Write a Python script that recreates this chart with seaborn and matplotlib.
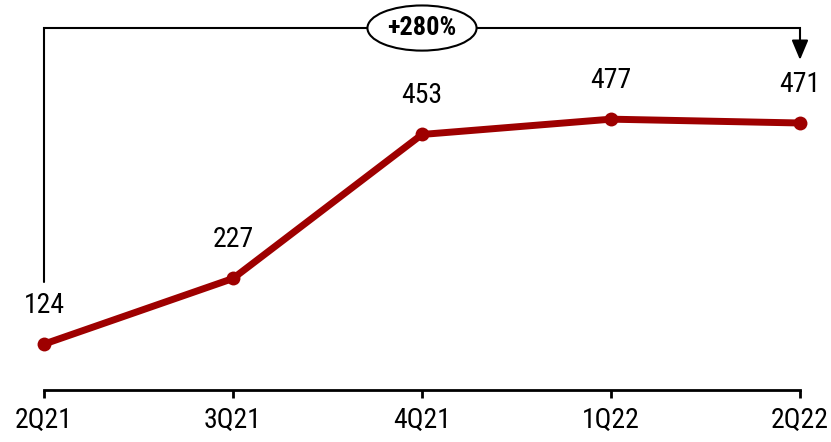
import matplotlib
matplotlib.use("Agg")
import matplotlib.pyplot as plt
import seaborn as sns
import pandas as pd

quarters = ["2Q21", "3Q21", "4Q21", "1Q22", "2Q22"]
values = [124, 227, 453, 477, 471]
growth_label = "+280%"

sns.set_theme(style="white")
plt.rcParams["font.family"] = ["Roboto Condensed", "Liberation Sans", "DejaVu Sans"]

red = "#9E0000"
df = pd.DataFrame({"quarter": quarters, "value": values, "pos": range(len(quarters))})

fig = plt.figure(figsize=(8.31, 4.42), dpi=100)
ax = fig.add_axes([44 / 831, 52 / 442, (800 - 44) / 831, 390 / 442])

sns.lineplot(data=df, x="pos", y="value", ax=ax, color=red, linewidth=5,
             marker="o", markersize=10, markeredgewidth=0, clip_on=False)

for x, v in zip(df["pos"], df["value"]):
    ax.annotate(f"{v}", (x, v), xytext=(0, 18), textcoords="offset points",
                ha="center", va="bottom", fontsize=20, color="black")

ax.set_xlim(0, len(quarters) - 1)
ax.set_ylim(52, 664)
ax.set_xticks(df["pos"])
ax.set_xticklabels(quarters, fontsize=20)
ax.set_xlabel("")
ax.set_ylabel("")
ax.set_yticks([])
for side in ["left", "right", "top"]:
    ax.spines[side].set_visible(False)
ax.spines["bottom"].set_color("black")
ax.spines["bottom"].set_linewidth(2)
ax.tick_params(axis="x", direction="out", length=6, width=2, color="black",
               bottom=True, pad=6, labelcolor="black")

# growth bracket from first to last quarter
last = len(quarters) - 1
top = 620
ax.plot([0, 0, last, last], [221, top, top, 594], color="black", lw=1.5,
        clip_on=False, solid_joinstyle="miter")
ax.annotate("", xy=(last, 570), xytext=(last, 595),
            arrowprops=dict(arrowstyle="-|>,head_length=1.0,head_width=0.42",
                            color="black", lw=1.5, shrinkA=0, shrinkB=0),
            annotation_clip=False)
ax.text(last / 2, top, growth_label, ha="center", va="center", fontsize=19,
        fontweight="bold", color="black",
        bbox=dict(boxstyle="ellipse,pad=0.15", fc="white", ec="black", lw=1.5),
        clip_on=False)

fig.savefig("out.png", dpi=100)
